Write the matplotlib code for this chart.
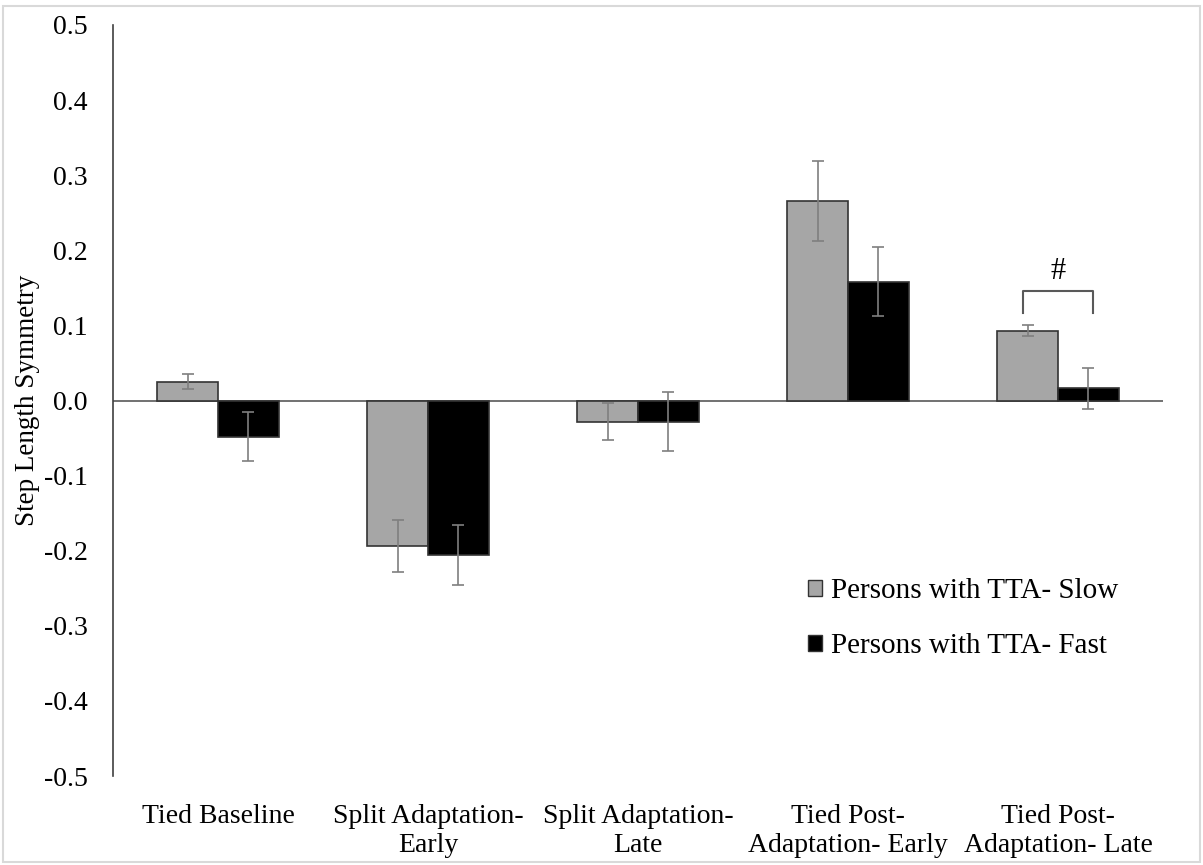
import matplotlib.pyplot as plt
import numpy as np
from matplotlib.patches import Patch, Rectangle

categories = [
    "Tied Baseline",
    "Split Adaptation-\nEarly",
    "Split Adaptation-\nLate",
    "Tied Post-\nAdaptation- Early",
    "Tied Post-\nAdaptation- Late",
]
slow_values = [0.025, -0.194, -0.028, 0.266, 0.093]
slow_errors = [0.010, 0.035, 0.025, 0.053, 0.007]
fast_values = [-0.048, -0.206, -0.028, 0.158, 0.016]
fast_errors = [0.033, 0.040, 0.039, 0.046, 0.027]
series_labels = ["Persons with TTA- Slow", "Persons with TTA- Fast"]
yticks = [-0.5, -0.4, -0.3, -0.2, -0.1, 0.0, 0.1, 0.2, 0.3, 0.4, 0.5]

plt.rcParams["font.family"] = ["Liberation Serif", "DejaVu Serif"]

fig = plt.figure(figsize=(12.03, 8.65), dpi=100)
ax = fig.add_axes([113 / 1203, 1 - 776 / 865, 1050 / 1203, 751 / 865])

x = np.arange(len(categories))
width = 0.29
slow_color = "#a6a6a6"
fast_color = "#000000"
err_color = "#7f7f7f"

ax.bar(x - width / 2, slow_values, width, color=slow_color, edgecolor="#333333", linewidth=1.2,
       yerr=slow_errors, error_kw=dict(ecolor=err_color, elinewidth=1.2, capsize=4.5, capthick=1.2))
ax.bar(x + width / 2, fast_values, width, color=fast_color, edgecolor="#333333", linewidth=1.2,
       yerr=fast_errors, error_kw=dict(ecolor=err_color, elinewidth=1.2, capsize=4.5, capthick=1.2))

ax.axhline(0, color="#595959", linewidth=1.2, zorder=0.5)

ax.set_xlim(-0.5, len(categories) - 0.5)
ax.set_ylim(-0.5, 0.5)
ax.set_yticks(yticks)
ax.set_yticklabels([f"{v:.1f}" for v in yticks], fontsize=20)
ax.set_xticks(x)
ax.set_xticklabels(categories, fontsize=20, linespacing=1.2)
ax.tick_params(axis="both", length=0)
ax.tick_params(axis="x", pad=20)
ax.tick_params(axis="y", pad=18)
for side in ["top", "right", "bottom"]:
    ax.spines[side].set_visible(False)
ax.spines["left"].set_color("#404040")
ax.spines["left"].set_linewidth(1.2)
ax.set_ylabel("Step Length Symmetry", fontsize=19.5)
ax.yaxis.set_label_coords((40 - 113) / 1050, 0.5)

# significance bracket on the last group
bx0, bx1 = x[-1] - width / 2 - 0.02, x[-1] + width / 2 + 0.02
by_top, by_bot = 0.146, 0.116
ax.plot([bx0, bx0, bx1, bx1], [by_bot, by_top, by_top, by_bot], color="#595959", linewidth=1.5)
ax.text(x[-1], by_top + 0.006, "#", ha="center", va="bottom", fontsize=22)

handles = [
    Patch(facecolor=slow_color, edgecolor="#333333", label=series_labels[0]),
    Patch(facecolor=fast_color, edgecolor="#333333", label=series_labels[1]),
]
fig.legend(handles=handles, loc="upper left", bbox_to_anchor=(808 / 1203, 1 - 578 / 865),
           frameon=False, fontsize=21, handlelength=0.48, handleheight=0.48,
           handletextpad=0.3, labelspacing=1.0, borderpad=0, borderaxespad=0)

fig.patches.append(Rectangle((3 / 1203, 3 / 865), 1 - 6 / 1203, 1 - 9 / 865,
                             transform=fig.transFigure, fill=False,
                             edgecolor="#d9d9d9", linewidth=1.5))

fig.savefig("out.png", dpi=100)
